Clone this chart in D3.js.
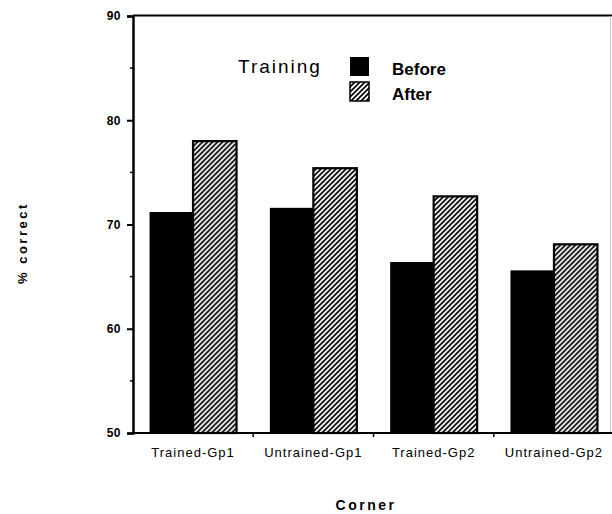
<!DOCTYPE html>
<html>
<head>
<meta charset="utf-8">
<script src="https://cdn.jsdelivr.net/npm/d3@7"></script>
<style>
  body { margin: 0; background: #fff; }
  svg { display: block; }
  text { font-family: "Liberation Sans", Arial, sans-serif; fill: #000; }
</style>
</head>
<body>
<svg id="chart" width="612" height="514"></svg>
<script>
// data
var categories = ['Trained-Gp1', 'Untrained-Gp1', 'Trained-Gp2', 'Untrained-Gp2'];
var before = [71.2, 71.6, 66.4, 65.6];
var after = [78.0, 75.4, 72.7, 68.1];
var series = ['Before', 'After'];
var yTicks = [50, 60, 70, 80, 90];
var yMinorTicks = [55, 65, 75, 85];

(function () {
  var svg = d3.select('#chart');

  var plotLeft = 133, plotRight = 614, plotTop = 16, plotBottom = 433;

  var x = d3.scaleBand()
    .domain(categories)
    .range([plotLeft, plotRight])
    .paddingInner(0.277)
    .paddingOuter(0.1375);

  var xInner = d3.scaleBand()
    .domain(series)
    .range([0, x.bandwidth()]);

  var y = d3.scaleLinear()
    .domain([50, 90])
    .range([plotBottom, plotTop]);

  // hatch pattern for the "after" bars
  var defs = svg.append('defs');
  var pat = defs.append('pattern')
    .attr('id', 'hatch')
    .attr('patternUnits', 'userSpaceOnUse')
    .attr('width', 5)
    .attr('height', 5);
  pat.append('rect').attr('width', 5).attr('height', 5).attr('fill', '#fff');
  pat.append('path')
    .attr('d', 'M-1,1 L1,-1 M0,5 L5,0 M4,6 L6,4')
    .attr('stroke', '#000')
    .attr('stroke-width', 1.7);

  function fillFor(s) {
    return s === 'Before' ? '#000' : 'url(#hatch)';
  }

  var rows = categories.map(function (c, i) {
    return { cat: c, values: [{ s: 'Before', v: before[i] }, { s: 'After', v: after[i] }] };
  });

  // bars
  var groups = svg.append('g')
    .selectAll('g')
    .data(rows)
    .join('g')
    .attr('transform', function (d) { return 'translate(' + x(d.cat) + ',0)'; });

  groups.selectAll('rect')
    .data(function (d) { return d.values; })
    .join('rect')
    .attr('x', function (d) { return xInner(d.s); })
    .attr('y', function (d) { return y(d.v); })
    .attr('width', xInner.bandwidth())
    .attr('height', function (d) { return y(50) - y(d.v); })
    .attr('fill', function (d) { return fillFor(d.s); })
    .attr('stroke', '#000')
    .attr('stroke-width', function (d) { return d.s === 'After' ? 2.2 : 0; });

  // frame: top and faint right border
  svg.append('line')
    .attr('x1', plotLeft).attr('x2', 612)
    .attr('y1', plotTop - 0.5).attr('y2', plotTop - 0.5)
    .attr('stroke', '#000').attr('stroke-width', 2);
  svg.append('line')
    .attr('x1', 610.5).attr('x2', 610.5)
    .attr('y1', plotTop).attr('y2', plotBottom)
    .attr('stroke', '#c8c8c8').attr('stroke-width', 1);

  // y axis
  var yAxis = d3.axisLeft(y)
    .tickValues(yTicks)
    .tickSize(6)
    .tickPadding(6)
    .tickFormat(d3.format('d'));

  var gy = svg.append('g')
    .attr('transform', 'translate(' + plotLeft + ',0)')
    .call(yAxis);
  gy.select('.domain').attr('stroke-width', 2.5);
  gy.selectAll('.tick line').attr('stroke-width', 2);
  gy.selectAll('.tick text')
    .style('font-family', '"Liberation Sans", Arial, sans-serif')
    .style('font-size', '12px')
    .style('font-weight', 'bold')
    .style('letter-spacing', '0.5px');

  svg.append('g')
    .selectAll('line')
    .data(yMinorTicks)
    .join('line')
    .attr('x1', plotLeft - 3).attr('x2', plotLeft)
    .attr('y1', function (d) { return y(d); })
    .attr('y2', function (d) { return y(d); })
    .attr('stroke', '#000').attr('stroke-width', 1.5);

  // x axis
  svg.append('line')
    .attr('x1', plotLeft).attr('x2', 612)
    .attr('y1', plotBottom).attr('y2', plotBottom)
    .attr('stroke', '#000').attr('stroke-width', 2);

  var step = x.step();
  svg.append('g')
    .selectAll('line')
    .data(categories.slice(1))
    .join('line')
    .attr('x1', function (d) { return x(d) - step * x.paddingInner() / 2; })
    .attr('x2', function (d) { return x(d) - step * x.paddingInner() / 2; })
    .attr('y1', plotBottom).attr('y2', plotBottom + 4)
    .attr('stroke', '#000').attr('stroke-width', 1.5);

  svg.append('g')
    .selectAll('text')
    .data(categories)
    .join('text')
    .attr('x', function (d) { return x(d) + x.bandwidth() / 2; })
    .attr('y', 457)
    .attr('text-anchor', 'middle')
    .style('font-size', '13px')
    .style('letter-spacing', '1px')
    .text(function (d) { return d; });

  // axis titles
  svg.append('text')
    .attr('x', 366)
    .attr('y', 510)
    .attr('text-anchor', 'middle')
    .style('font-size', '14px')
    .style('font-weight', 'bold')
    .style('letter-spacing', '2.5px')
    .text('Corner');

  svg.append('text')
    .attr('transform', 'translate(27,284) rotate(-90)')
    .attr('text-anchor', 'start')
    .style('font-size', '13px')
    .style('font-weight', 'bold')
    .style('letter-spacing', '2.5px')
    .text('% correct');

  // legend
  var legend = svg.append('g');
  legend.append('text')
    .attr('x', 238).attr('y', 73)
    .style('font-size', '19px')
    .style('letter-spacing', '2px')
    .text('Training');

  var legendItems = legend.selectAll('g')
    .data(series)
    .join('g')
    .attr('transform', function (d, i) { return 'translate(350,' + (57 + i * 25) + ')'; });

  legendItems.append('rect')
    .attr('width', 19).attr('height', 19)
    .attr('fill', function (d) { return fillFor(d); })
    .attr('stroke', '#000')
    .attr('stroke-width', function (d) { return d === 'After' ? 1.5 : 0; });

  legendItems.append('text')
    .attr('x', 42).attr('y', 18)
    .style('font-size', '17px')
    .style('font-weight', 'bold')
    .text(function (d) { return d; });
})();
</script>
</body>
</html>
